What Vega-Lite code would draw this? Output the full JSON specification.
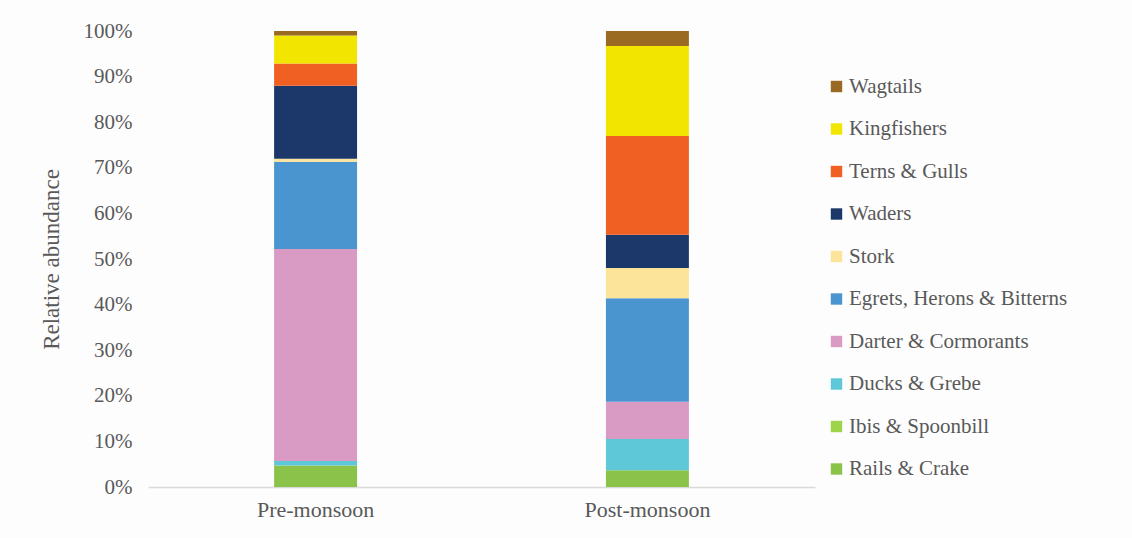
{
  "$schema": "https://vega.github.io/schema/vega-lite/v6.json",
  "width": 667,
  "height": 456,
  "autosize": {"type": "none"},
  "padding": {"left": 148, "top": 31, "right": 317, "bottom": 51},
  "background": "#fdfdfd",
  "config": {
    "view": {"stroke": null},
    "font": "Liberation Serif"
  },
  "data": {
    "values": [
      {"season": "Pre-monsoon", "group": "Rails & Crake", "ord": 1, "pct": 4.7},
      {"season": "Pre-monsoon", "group": "Ibis & Spoonbill", "ord": 2, "pct": 0.0},
      {"season": "Pre-monsoon", "group": "Ducks & Grebe", "ord": 3, "pct": 1.0},
      {"season": "Pre-monsoon", "group": "Darter & Cormorants", "ord": 4, "pct": 46.5},
      {"season": "Pre-monsoon", "group": "Egrets, Herons & Bitterns", "ord": 5, "pct": 19.1},
      {"season": "Pre-monsoon", "group": "Stork", "ord": 6, "pct": 0.7},
      {"season": "Pre-monsoon", "group": "Waders", "ord": 7, "pct": 16.0},
      {"season": "Pre-monsoon", "group": "Terns & Gulls", "ord": 8, "pct": 4.9},
      {"season": "Pre-monsoon", "group": "Kingfishers", "ord": 9, "pct": 6.1},
      {"season": "Pre-monsoon", "group": "Wagtails", "ord": 10, "pct": 1.0},
      {"season": "Post-monsoon", "group": "Rails & Crake", "ord": 1, "pct": 3.7},
      {"season": "Post-monsoon", "group": "Ibis & Spoonbill", "ord": 2, "pct": 0.0},
      {"season": "Post-monsoon", "group": "Ducks & Grebe", "ord": 3, "pct": 6.8},
      {"season": "Post-monsoon", "group": "Darter & Cormorants", "ord": 4, "pct": 8.2},
      {"season": "Post-monsoon", "group": "Egrets, Herons & Bitterns", "ord": 5, "pct": 22.7},
      {"season": "Post-monsoon", "group": "Stork", "ord": 6, "pct": 6.6},
      {"season": "Post-monsoon", "group": "Waders", "ord": 7, "pct": 7.3},
      {"season": "Post-monsoon", "group": "Terns & Gulls", "ord": 8, "pct": 21.7},
      {"season": "Post-monsoon", "group": "Kingfishers", "ord": 9, "pct": 19.7},
      {"season": "Post-monsoon", "group": "Wagtails", "ord": 10, "pct": 3.3}
    ]
  },
  "mark": {"type": "bar"},
  "encoding": {
    "x": {
      "field": "season",
      "type": "nominal",
      "sort": ["Pre-monsoon", "Post-monsoon"],
      "scale": {"paddingInner": 0.75, "paddingOuter": 0.38},
      "axis": {
        "title": null,
        "labelAngle": 0,
        "labelFontSize": 22,
        "labelColor": "#595959",
        "labelPadding": 12,
        "ticks": false,
        "domainColor": "#d9d9d9",
        "domainWidth": 1.5
      }
    },
    "y": {
      "field": "pct",
      "type": "quantitative",
      "stack": "normalize",
      "scale": {"domain": [0, 1]},
      "axis": {
        "title": "Relative abundance",
        "titleFontSize": 23,
        "titleFontWeight": "normal",
        "titleColor": "#595959",
        "titlePadding": 20,
        "format": ".0%",
        "values": [0, 0.1, 0.2, 0.3, 0.4, 0.5, 0.6, 0.7, 0.8, 0.9, 1],
        "labelFontSize": 21,
        "labelColor": "#595959",
        "labelPadding": 16,
        "ticks": false,
        "domain": false,
        "grid": false
      }
    },
    "color": {
      "field": "group",
      "type": "nominal",
      "scale": {
        "domain": ["Wagtails", "Kingfishers", "Terns & Gulls", "Waders", "Stork", "Egrets, Herons & Bitterns", "Darter & Cormorants", "Ducks & Grebe", "Ibis & Spoonbill", "Rails & Crake"],
        "range": ["#9a6a22", "#f2e600", "#f06022", "#1c386b", "#fce49a", "#4a95d0", "#d99ac4", "#5ec8d8", "#9dd44a", "#8bc34a"]
      },
      "legend": {
        "title": null,
        "orient": "none",
        "legendX": 678,
        "legendY": 45,
        "symbolType": "square",
        "symbolSize": 130,
        "symbolStrokeWidth": 0,
        "labelFontSize": 21,
        "labelColor": "#595959",
        "labelOffset": 2,
        "labelLimit": 300,
        "rowPadding": 20.5
      }
    },
    "order": {"field": "ord", "type": "quantitative", "sort": "ascending"}
  }
}
